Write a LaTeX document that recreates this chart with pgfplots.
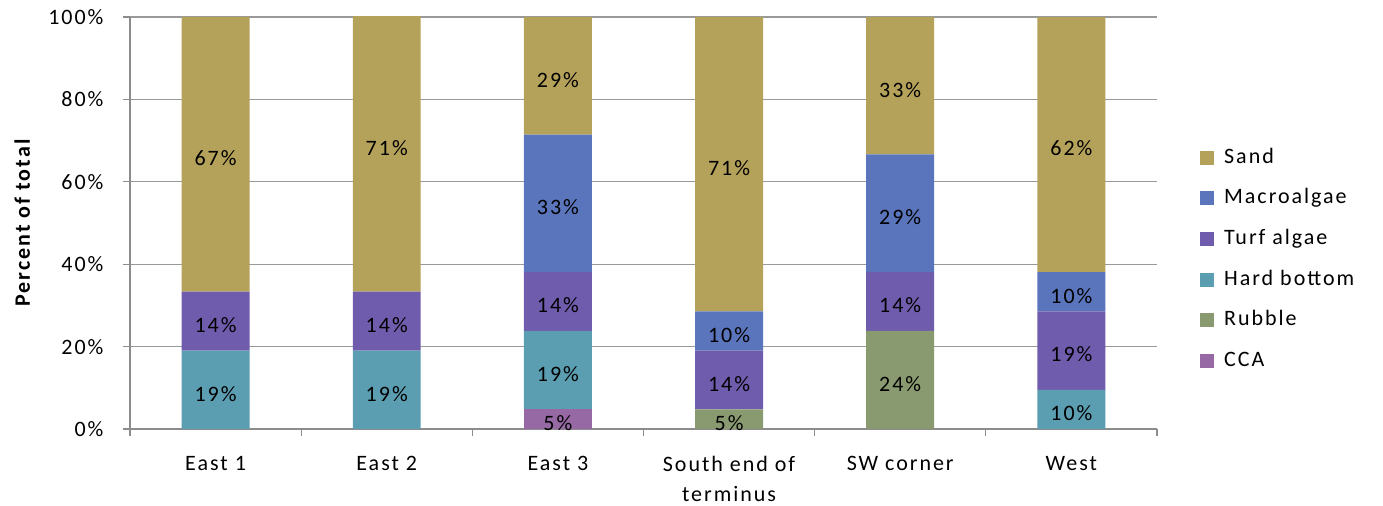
\documentclass[border=0pt]{standalone}
\usepackage{pgfplots}
\usepackage{pgfplotstable}
\pgfplotsset{compat=1.18}
\usepackage{fontspec}
\setmainfont{Carlito}[LetterSpace=9]

\definecolor{sand}{HTML}{B5A25A}
\definecolor{macro}{HTML}{5B75BD}
\definecolor{turf}{HTML}{705CAD}
\definecolor{hard}{HTML}{5B9DB1}
\definecolor{rubble}{HTML}{8A9A70}
\definecolor{cca}{HTML}{9669A5}
\definecolor{axisgray}{HTML}{8C8C8C}
\definecolor{gridgray}{HTML}{999999}

\newcommand\chartfont{\fontsize{22bp}{30bp}\selectfont}

% Percent cover of each bottom type per site
\pgfplotstableread{
x CCA  Rubble Hard  Turf  Macro Sand
0 0    0      19.05 14.29 0     66.66
1 0    0      19.05 14.29 0     71.43
2 4.76 0      19.05 14.29 33.33 28.57
3 0    4.76   0     14.29 9.52  71.43
4 0    23.81  0     14.29 28.57 33.33
5 0    0      9.52  19.05 9.52  61.90
}\cover

% shared frame of both axes
\pgfplotsset{
  coverframe/.style={
    at={(130bp,77bp)}, anchor=south west,
    scale only axis, width=1027bp, height=412bp,
    ybar stacked, bar width=0.397,
    xmin=-0.5, xmax=5.5, ymin=0, ymax=100,
  },
}

\begin{document}
\begin{tikzpicture}
\useasboundingbox (0,0) rectangle (1383bp,506bp);
% bars (a segment running past 100% is cut at the top)
\begin{axis}[
  coverframe,
  axis x line*=bottom, axis y line*=left,
  axis line style={draw=axisgray, line width=1.2bp},
  ymajorgrids, grid style={draw=gridgray, line width=1.2bp},
  tick align=outside, major tick length=7bp,
  tick style={draw=axisgray, line width=1.2bp},
  ytick={0,20,...,100},
  yticklabel={\pgfmathprintnumber{\tick}\%},
  /pgf/number format/assume math mode=true,
  xtick={-0.5,0.5,...,5.5},
  x tick label as interval,
  xticklabels={East 1,East 2,East 3,{South end of\\terminus},SW corner,West},
  xticklabel style={align=center, font=\chartfont, yshift=-17bp},
  yticklabel style={font=\chartfont, xshift=-16bp},
  ylabel={\bfseries Percent of total},
  ylabel style={font=\chartfont, at={(axis description cs:-0.105,0.5)}, anchor=center},
  legend style={at={(1.0419,0.412)}, anchor=west, draw=none, fill=none,
    inner sep=0pt, font=\chartfont, row sep=19.6bp,
    nodes={inner sep=0pt, text height=16bp, text depth=5bp},
    /tikz/every odd column/.append style={column sep=10bp}},
  legend cell align=left,
  reverse legend,
  legend image code/.code={\fill[#1] (0bp,-7bp) rectangle (14bp,7bp);},
]
\addplot[fill=cca, draw=none] table[x=x, y=CCA] {\cover};
\addlegendentry{CCA}
\addplot[fill=rubble, draw=none] table[x=x, y=Rubble] {\cover};
\addlegendentry{Rubble}
\addplot[fill=hard, draw=none] table[x=x, y=Hard] {\cover};
\addlegendentry{Hard bottom}
\addplot[fill=turf, draw=none] table[x=x, y=Turf] {\cover};
\addlegendentry{Turf algae}
\addplot[fill=macro, draw=none] table[x=x, y=Macro] {\cover};
\addlegendentry{Macroalgae}
\addplot[fill=sand, draw=none] table[x=x, y=Sand] {\cover};
\addlegendentry{Sand}
\end{axis}
% value labels in the middle of each segment
\begin{axis}[
  coverframe, hide axis, clip=false,
  visualization depends on=rawy \as \rawy,
  nodes near coords={\pgfmathtruncatemacro\lbl{round(\rawy)}\ifnum\lbl>0 \lbl\%\fi},
  every node near coord/.append style={font=\chartfont, anchor=center, yshift=-4bp},
]
\addplot[fill=none, draw=none] table[x=x, y=CCA] {\cover};
\addplot[fill=none, draw=none] table[x=x, y=Rubble] {\cover};
\addplot[fill=none, draw=none] table[x=x, y=Hard] {\cover};
\addplot[fill=none, draw=none] table[x=x, y=Turf] {\cover};
\addplot[fill=none, draw=none] table[x=x, y=Macro] {\cover};
\addplot[fill=none, draw=none] table[x=x, y=Sand] {\cover};
\end{axis}
\end{tikzpicture}
\end{document}
